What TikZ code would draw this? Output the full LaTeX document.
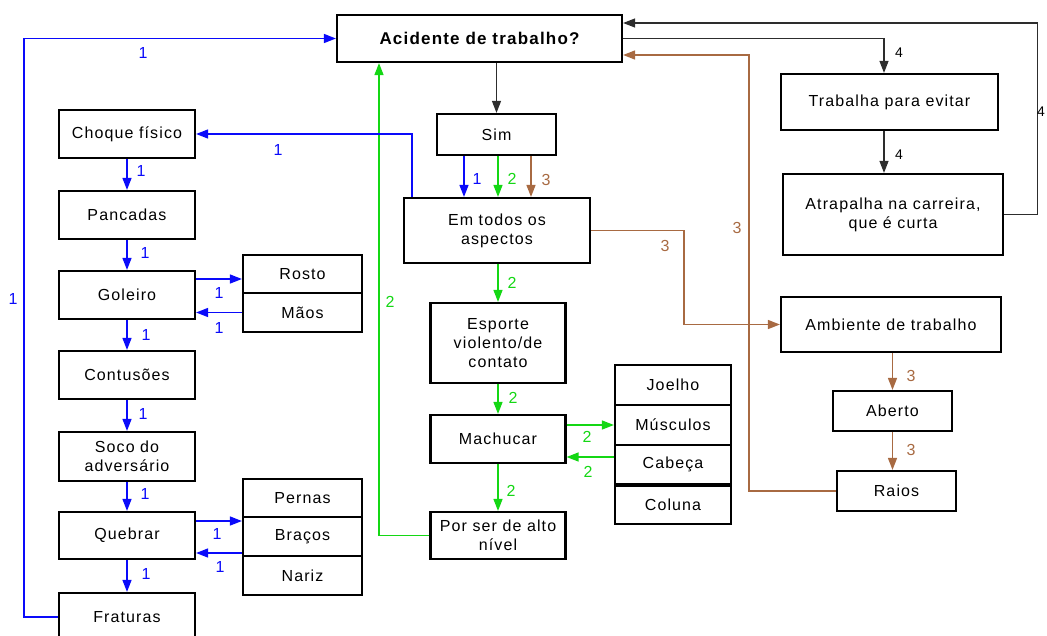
\documentclass[tikz,border=0pt]{standalone}
\usepackage{fontspec}
\setmainfont{Liberation Sans}[LetterSpace=7]
\usetikzlibrary{arrows.meta,calc}
\definecolor{blueline}{RGB}{10,10,250}
\definecolor{greenline}{RGB}{20,215,20}
\definecolor{brownline}{RGB}{168,106,66}
\definecolor{darkline}{RGB}{45,45,45}
\begin{document}
\begin{tikzpicture}[x=1pt,y=-1pt,
  box/.style={draw=black,line width=2.2pt,fill=white,inner sep=0pt,align=center,
    font=\fontsize{16}{19}\selectfont},
  conn/.style={line width=1.5pt,-{Triangle[length=12pt,width=9pt]}},
  bl/.style={conn,draw=blueline},
  gr/.style={conn,draw=greenline},
  br/.style={conn,draw=brownline},
  dk/.style={conn,line width=1.2pt,draw=darkline},
  num/.style={font=\fontsize{16}{18}\selectfont,inner sep=0pt},
  nb/.style={num,text=blueline},
  ng/.style={num,text=greenline},
  nr/.style={num,text=brownline},
  nk/.style={num,text=black,font=\fontsize{14}{16}\selectfont}]
\useasboundingbox (0,0) rectangle (1047,635);

% central column
\node[box,minimum width=285pt,minimum height=47pt,font=\fontsize{17}{20}\selectfont\bfseries] (acid) at (479.5,38.5) {Acidente de trabalho?};
\node[box,minimum width=119pt,minimum height=41pt] (sim) at (496.5,134.5) {Sim};
\node[box,minimum width=186pt,minimum height=65pt] (todos) at (497,230.5) {Em todos os\\aspectos};
\node[box,minimum width=135pt,minimum height=80pt] (esporte) at (498,343) {Esporte\\violento/de\\contato};
\node[box,minimum width=135pt,minimum height=48pt] (mach) at (498,439) {Machucar};
\node[box,minimum width=135pt,minimum height=47pt] (porser) at (498,535.5) {Por ser de alto\\nível};

% body parts stack
\node[box,minimum width=116pt,minimum height=40pt] (joelho) at (673,385) {Joelho};
\node[box,minimum width=116pt,minimum height=40pt] (musc) at (673,425) {Músculos};
\node[box,minimum width=116pt,minimum height=39pt] (cabeca) at (673,464.5) {Cabeça};
\node[box,minimum width=116pt,minimum height=38pt] (coluna) at (673,505) {Coluna};

% left column
\node[box,minimum width=136pt,minimum height=48pt] (choque) at (127,134) {Choque físico};
\node[box,minimum width=136pt,minimum height=48pt] (panc) at (127,215) {Pancadas};
\node[box,minimum width=136pt,minimum height=48pt] (goleiro) at (127,295) {Goleiro};
\node[box,minimum width=136pt,minimum height=48pt] (contus) at (127,375) {Contusões};
\node[box,minimum width=136pt,minimum height=49pt] (soco) at (127,456.5) {Soco do\\adversário};
\node[box,minimum width=136pt,minimum height=47pt] (quebrar) at (127,535.5) {Quebrar};
\node[box,minimum width=136pt,minimum height=48pt] (fraturas) at (127,617) {Fraturas};

\node[box,minimum width=119pt,minimum height=38pt] (rosto) at (302.5,274) {Rosto};
\node[box,minimum width=119pt,minimum height=39pt] (maos) at (302.5,312.5) {Mãos};
\node[box,minimum width=119pt,minimum height=38pt] (pernas) at (302.5,498) {Pernas};
\node[box,minimum width=119pt,minimum height=39pt] (bracos) at (302.5,536.5) {Braços};
\node[box,minimum width=119pt,minimum height=39pt] (nariz) at (302.5,575.5) {Nariz};

% right column
\node[box,minimum width=217pt,minimum height=56pt] (trab) at (889.5,102) {Trabalha para evitar};
\node[box,minimum width=220pt,minimum height=81pt] (atrap) at (893,214.5) {Atrapalha na carreira,\\que é curta};
\node[box,minimum width=220pt,minimum height=55pt] (amb) at (891,324.5) {Ambiente de trabalho};
\node[box,minimum width=119pt,minimum height=40pt] (aberto) at (892.5,411) {Aberto};
\node[box,minimum width=119pt,minimum height=40pt] (raios) at (896.5,491) {Raios};

% helper points on box sides
\coordinate (acidS) at ([xshift=-100.5pt]acid.south);
\coordinate (acidNE) at ([yshift=15.5pt]acid.east);
\coordinate (acidSE) at ([yshift=-16.5pt]acid.east);
\coordinate (trabN) at ([xshift=-5.5pt]trab.north);
\coordinate (trabS) at ([xshift=-5.5pt]trab.south);
\coordinate (simA) at ([xshift=-32.5pt]sim.south);
\coordinate (simB) at ([xshift=1.5pt]sim.south);
\coordinate (simC) at ([xshift=34.5pt]sim.south);
\coordinate (todosNW) at ([xshift=-85pt]todos.north);
\coordinate (cabW) at ([yshift=7.5pt]cabeca.west);
\coordinate (golA) at ([yshift=16pt]goleiro.east);
\coordinate (quebA) at ([yshift=14.5pt]quebrar.east);
\coordinate (bracW) at ([yshift=-16.5pt]bracos.west);

% branch 4 (black)
\draw[dk] (sim.north |- acid.south) -- (sim.north);
\draw[dk] (acid.east) -| (trabN);
\draw[dk] (trabS) -- (trabS |- atrap.north);
\draw[dk] (atrap.east) -- ++(33,0) |- (acidNE);

% branch 3 (brown)
\draw[br] (simC) -- (simC |- todos.north);
\draw[br] (todos.east) -- ++(93,0) |- (amb.west);
\draw[br] (aberto.north |- amb.south) -- (aberto.north);
\draw[br] (aberto.south) -- (aberto.south |- raios.north);
\draw[br] (raios.west) -- ++(-87,0) |- (acidSE);

% branch 2 (green)
\draw[gr] (simB) -- (simB |- todos.north);
\draw[gr] (esporte.north |- todos.south) -- (esporte.north);
\draw[gr] (esporte.south) -- (mach.north);
\draw[gr] (mach.south) -- (porser.north);
\draw[gr] (musc.west -| mach.east) -- (musc.west);
\draw[gr] (cabW) -- (cabW -| mach.east);
\draw[gr] (porser.west) -| (acidS);

% branch 1 (blue)
\draw[bl] (simA) -- (simA |- todos.north);
\draw[bl] (todosNW) |- (choque.east);
\draw[bl] (choque.south) -- (panc.north);
\draw[bl] (panc.south) -- (goleiro.north);
\draw[bl] (golA) -- (golA -| rosto.west);
\draw[bl] (maos.west) -- (maos.west -| goleiro.east);
\draw[bl] (goleiro.south) -- (contus.north);
\draw[bl] (contus.south) -- (soco.north);
\draw[bl] (soco.south) -- (quebrar.north);
\draw[bl] (quebA) -- (quebA -| bracos.west);
\draw[bl] (bracW) -- (bracW -| quebrar.east);
\draw[bl] (quebrar.south) -- (fraturas.north);
\draw[bl] (fraturas.west) -- ++(-34,0) |- (acid.west);

% path numbers
\node[nb] (b1) at (143,53) {1};
\node[nb] (b2) at (278,150) {1};
\node[nb] (b3) at (141,171) {1};
\node[nb] (b4) at (145,253) {1};
\node[nb] (b5) at (219,293) {1};
\node[nb] (b6) at (13,299) {1};
\node[nb] (b7) at (219,328) {1};
\node[nb] (b8) at (146,335) {1};
\node[nb] (b9) at (143,414) {1};
\node[nb] (b10) at (145,494) {1};
\node[nb] (b11) at (217,534) {1};
\node[nb] (b12) at (220,567) {1};
\node[nb] (b13) at (146,574) {1};
\node[nb] (b14) at (477,179) {1};

\node[ng] (g1) at (512,179) {2};
\node[ng] (g2) at (512,283) {2};
\node[ng] (g3) at (390,302) {2};
\node[ng] (g4) at (513,398) {2};
\node[ng] (g5) at (587,437) {2};
\node[ng] (g6) at (588,472) {2};
\node[ng] (g7) at (511,491) {2};

\node[nr] (r1) at (546,180) {3};
\node[nr] (r2) at (665,246) {3};
\node[nr] (r3) at (737,228) {3};
\node[nr] (r4) at (911,376) {3};
\node[nr] (r5) at (911,450) {3};

\node[nk] (k1) at (899,53) {4};
\node[nk] (k2) at (899,155) {4};
\node[nk] (k3) at (1041,112) {4};
\end{tikzpicture}
\end{document}
